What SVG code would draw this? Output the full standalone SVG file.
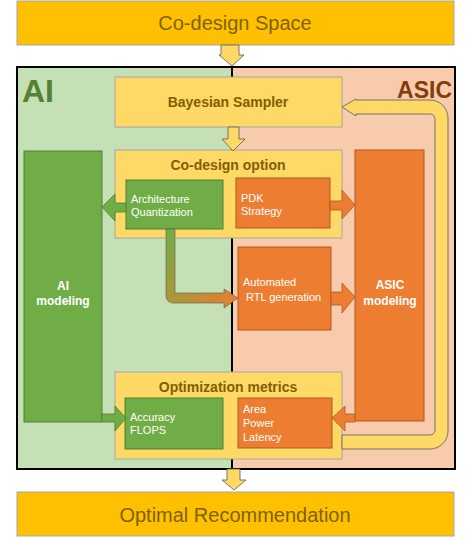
<svg xmlns="http://www.w3.org/2000/svg" width="466" height="540" viewBox="0 0 466 540">
<defs>
<style>
.bar{fill:#FFC000;stroke:#A6A6A6;stroke-width:1}
.bartxt{font-family:"Liberation Sans",Arial,sans-serif;font-size:20px;fill:#7F6000;text-anchor:middle}
.yel{fill:#FFD966;stroke:#A6A6A6;stroke-width:1}
.grn{fill:#70AD47;stroke:#507E32;stroke-width:1}
.org{fill:#ED7D31;stroke:#AE5A21;stroke-width:1}
.ttl{font-family:"Liberation Sans",Arial,sans-serif;font-size:14px;font-weight:bold;fill:#7F6000;text-anchor:middle}
.wt{font-family:"Liberation Sans",Arial,sans-serif;font-size:11px;fill:#FFFFFF}
.wb{font-family:"Liberation Sans",Arial,sans-serif;font-size:12px;font-weight:bold;fill:#FFFFFF;text-anchor:middle}
.yarrow{fill:#FFD966;stroke:#595959;stroke-width:0.8;stroke-linejoin:miter}
.garrow{fill:#70AD47;stroke:#507E32;stroke-width:0.8}
.oarrow{fill:#ED7D31;stroke:#AE5A21;stroke-width:0.8}
</style>
<linearGradient id="gr" x1="0" y1="0" x2="1" y2="1">
<stop offset="0" stop-color="#70AD47"/>
<stop offset="0.4" stop-color="#A39A3A"/>
<stop offset="1" stop-color="#ED7D31"/>
</linearGradient>
</defs>

<g id="frame">
<rect x="17" y="67" width="215" height="402" fill="#C5E0B4"/>
<rect x="232" y="67" width="223" height="402" fill="#F8CBAD"/>
<line x1="232" y1="67" x2="232" y2="469" stroke="#000" stroke-width="2"/>
<rect x="17" y="67" width="438" height="402" fill="none" stroke="#000" stroke-width="2"/>
<text x="22" y="102" font-family="'Liberation Sans',Arial,sans-serif" font-size="32" font-weight="bold" fill="#548235">AI</text>
<text x="452" y="98" font-family="'Liberation Sans',Arial,sans-serif" font-size="23" font-weight="bold" fill="#843C0C" text-anchor="end">ASIC</text>
</g>

<g id="codesign-space">
<rect class="bar" x="17" y="1" width="437" height="44"/>
<text class="bartxt" x="235" y="30" font-size="18.5">Co-design Space</text>
</g>

<g id="optimal-recommendation">
<rect class="bar" x="17" y="492" width="437" height="44"/>
<text class="bartxt" x="235" y="522">Optimal Recommendation</text>
</g>

<g id="bayesian-sampler">
<rect class="yel" x="115" y="77" width="227" height="50"/>
<text class="ttl" x="228" y="107">Bayesian Sampler</text>
</g>

<g id="codesign-option">
<rect class="yel" x="115" y="150" width="227" height="88"/>
<text class="ttl" x="228" y="170">Co-design option</text>
</g>

<g id="arch-quant">
<rect class="grn" x="126" y="180" width="97" height="49"/>
<text class="wt" x="131" y="203">Architecture</text>
<text class="wt" x="131" y="216">Quantization</text>
</g>

<g id="pdk-strategy">
<rect class="org" x="236" y="178" width="94" height="50"/>
<text class="wt" x="241" y="202">PDK</text>
<text class="wt" x="241" y="215">Strategy</text>
</g>

<g id="ai-modeling">
<rect class="grn" x="24" y="151" width="78" height="271"/>
<text class="wb" x="63" y="290">AI</text>
<text class="wb" x="63" y="305">modeling</text>
</g>

<g id="asic-modeling">
<rect class="org" x="355" y="150" width="69" height="271"/>
<text class="wb" x="390" y="289">ASIC</text>
<text class="wb" x="390" y="305">modeling</text>
</g>

<g id="rtl-generation">
<rect class="org" x="238" y="247" width="93" height="83"/>
<text class="wt" x="243" y="286">Automated</text>
<text class="wt" x="246" y="301">RTL generation</text>
</g>

<g id="optimization-metrics">
<rect class="yel" x="115" y="372" width="227" height="87"/>
<text class="ttl" x="228" y="392">Optimization metrics</text>
</g>

<g id="accuracy-flops">
<rect class="grn" x="125" y="398" width="98" height="51"/>
<text class="wt" x="130" y="421" font-size="10">Accuracy</text>
<text class="wt" x="130" y="434" font-size="10">FLOPS</text>
</g>

<g id="area-power-latency">
<rect class="org" x="238" y="398" width="94" height="50"/>
<text class="wt" x="243" y="413">Area</text>
<text class="wt" x="243" y="427">Power</text>
<text class="wt" x="243" y="441">Latency</text>
</g>

<g id="connectors">
<polygon class="yarrow" points="221,45 239,45 239,55 244,55 232,66 219,55 221,55"/>
<polygon class="yarrow" points="228,127 239,127 239,139 245,139 233,151 222,139 228,139"/>
<polygon class="yarrow" points="227,469 240,469 240,480 246,480 234,490 222,480 227,480"/>
<polygon class="garrow" points="126,203 115,203 115,194 102,207 115,221 115,212 126,212"/>
<polygon class="oarrow" points="330,201 342,201 342,190 355,205 342,219 342,210 330,210"/>
<polygon class="oarrow" points="331,292 342,292 342,283 355,297 342,313 342,305 331,305"/>
<polygon class="garrow" points="102,414 115,414 115,406 126,418 115,431 115,422 102,422"/>
<polygon class="oarrow" points="355,414 345,414 345,406 332,418 345,431 345,422 355,422"/>
<path d="M166,229 H175 V293 H224 V289 L238,298 L224,308 V303 H173 A7,7 0 0 1 166,296 Z" fill="url(#gr)" stroke="#595959" stroke-width="0.6"/>
<path class="yarrow" d="M342,435 H430 A5,5 0 0 0 435,430 V119 A5,5 0 0 0 430,114 H356 V116 L342,107 L356,99 V100 H430 A18,18 0 0 1 448,118 V431 A18,18 0 0 1 430,449 H342 Z"/>
</g>
</svg>
